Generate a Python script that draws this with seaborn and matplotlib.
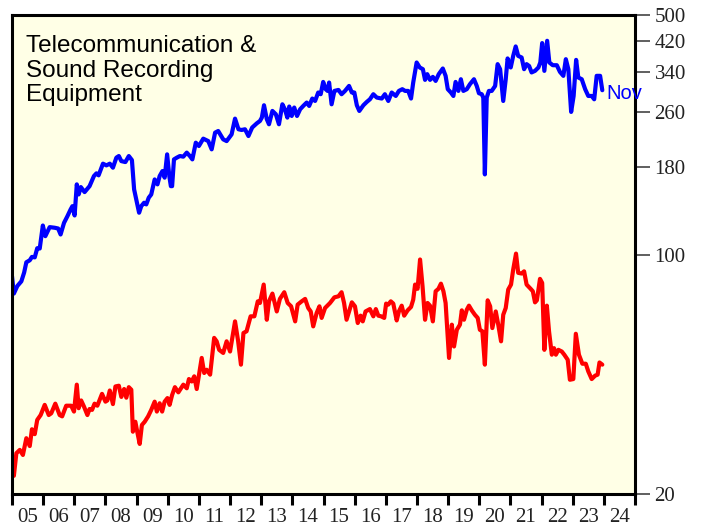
import numpy as np
import pandas as pd
import seaborn as sns
import matplotlib
matplotlib.use("Agg")
import matplotlib.pyplot as plt

# Telecom & sound recording equipment: upper (blue) and lower (red) series, log scale
blue_t = [2005.00, 2005.06, 2005.17, 2005.30, 2005.39, 2005.46, 2005.57, 2005.64, 2005.73, 2005.81,
          2005.89, 2005.99, 2006.07, 2006.21, 2006.37, 2006.48, 2006.56, 2006.67, 2006.78, 2006.88,
          2006.94, 2007.01, 2007.08, 2007.14, 2007.21, 2007.33, 2007.49, 2007.63, 2007.71, 2007.78,
          2007.92, 2008.03, 2008.14, 2008.24, 2008.35, 2008.43, 2008.51, 2008.64, 2008.75, 2008.85,
          2008.92, 2008.99, 2009.08, 2009.15, 2009.24, 2009.31, 2009.39, 2009.47, 2009.58, 2009.67,
          2009.74, 2009.83, 2009.90, 2009.98, 2010.05, 2010.10, 2010.14, 2010.20, 2010.29, 2010.39,
          2010.50, 2010.61, 2010.71, 2010.79, 2010.90, 2011.00, 2011.14, 2011.30, 2011.41, 2011.52,
          2011.62, 2011.78, 2011.89, 2012.05, 2012.16, 2012.27, 2012.37, 2012.48, 2012.59, 2012.71,
          2012.86, 2012.96, 2013.02, 2013.09, 2013.18, 2013.25, 2013.36, 2013.47, 2013.57, 2013.68,
          2013.76, 2013.84, 2013.90, 2013.98, 2014.06, 2014.15, 2014.25, 2014.35, 2014.46, 2014.54,
          2014.64, 2014.73, 2014.83, 2014.91, 2014.99, 2015.07, 2015.13, 2015.18, 2015.26, 2015.35,
          2015.48, 2015.58, 2015.69, 2015.82, 2015.91, 2015.99, 2016.07, 2016.15, 2016.28, 2016.39,
          2016.49, 2016.60, 2016.71, 2016.87, 2016.97, 2017.08, 2017.19, 2017.32, 2017.42, 2017.53,
          2017.62, 2017.72, 2017.81, 2017.88, 2017.99, 2018.09, 2018.19, 2018.26, 2018.33, 2018.42,
          2018.51, 2018.60, 2018.70, 2018.83, 2018.92, 2018.99, 2019.09, 2019.17, 2019.24, 2019.33,
          2019.41, 2019.49, 2019.60, 2019.70, 2019.83, 2019.92, 2019.99, 2020.08, 2020.13, 2020.18,
          2020.24, 2020.31, 2020.40, 2020.51, 2020.59, 2020.67, 2020.77, 2020.85, 2020.91, 2021.01,
          2021.09, 2021.17, 2021.25, 2021.36, 2021.44, 2021.52, 2021.60, 2021.68, 2021.79, 2021.90,
          2021.96, 2022.02, 2022.09, 2022.18, 2022.25, 2022.36, 2022.49, 2022.59, 2022.70, 2022.78,
          2022.86, 2022.95, 2023.03, 2023.11, 2023.18, 2023.29, 2023.40, 2023.50, 2023.61, 2023.69,
          2023.77, 2023.88, 2023.95]
blue_v = [86.4, 76.9, 80.9, 83.5, 88.6, 94.9, 96.2, 98.4, 98.1, 104.3,
          104.1, 121.5, 113.1, 120.2, 119.7, 119.1, 114.4, 123.7, 129.4, 135.3,
          138.4, 130.0, 160.2, 149.7, 157.3, 152.1, 158.3, 169.4, 172.5, 170.2,
          184.1, 182.0, 184.1, 179.2, 191.7, 193.8, 187.3, 186.1, 193.8, 188.6,
          154.9, 144.8, 132.4, 138.4, 141.6, 140.0, 146.5, 149.7, 165.6, 160.2,
          169.4, 175.2, 167.6, 196.0, 169.4, 158.3, 158.3, 189.5, 191.7, 193.8,
          193.0, 198.3, 193.8, 189.5, 212.0, 207.3, 217.8, 214.3, 202.7, 226.8,
          229.3, 216.8, 214.3, 224.2, 249.2, 232.0, 230.9, 232.0, 221.7, 234.7,
          241.5, 245.3, 250.9, 272.6, 248.2, 239.9, 262.4, 256.6, 239.9, 274.4,
          265.4, 250.9, 270.3, 253.7, 268.5, 253.7, 265.4, 271.4, 277.6, 271.4,
          285.2, 280.6, 297.0, 293.6, 318.9, 303.7, 300.2, 317.6, 274.4, 300.2,
          302.2, 293.6, 300.2, 310.4, 297.0, 297.0, 272.6, 262.4, 272.6, 278.8,
          283.8, 293.6, 287.1, 285.2, 293.6, 280.6, 297.0, 290.2, 300.2, 303.7,
          300.2, 300.2, 285.2, 317.6, 363.4, 351.4, 347.4, 323.3, 336.0, 323.3,
          329.9, 321.1, 336.0, 349.0, 332.2, 303.7, 297.0, 290.2, 318.9, 300.2,
          324.7, 300.2, 303.7, 314.0, 324.7, 310.4, 295.6, 293.6, 287.1, 171.3,
          287.1, 300.2, 300.2, 310.4, 359.4, 347.4, 280.6, 324.7, 373.4, 351.4,
          379.9, 404.8, 379.9, 375.8, 347.4, 359.4, 355.1, 339.9, 343.5, 351.4,
          363.4, 414.0, 343.5, 420.4, 363.4, 356.8, 356.8, 341.2, 332.2, 371.5,
          347.4, 260.7, 290.2, 369.8, 328.6, 324.7, 303.7, 290.2, 290.2, 283.8,
          332.2, 332.2, 301.6]

red_t = [2005.00, 2005.06, 2005.14, 2005.25, 2005.35, 2005.46, 2005.57, 2005.64, 2005.73, 2005.81,
         2005.92, 2006.05, 2006.18, 2006.26, 2006.39, 2006.53, 2006.61, 2006.74, 2006.90, 2006.99,
         2007.08, 2007.14, 2007.22, 2007.31, 2007.42, 2007.49, 2007.57, 2007.65, 2007.74, 2007.89,
         2008.00, 2008.06, 2008.14, 2008.24, 2008.32, 2008.43, 2008.51, 2008.60, 2008.67, 2008.75,
         2008.83, 2008.88, 2008.96, 2009.02, 2009.10, 2009.17, 2009.26, 2009.37, 2009.47, 2009.58,
         2009.65, 2009.74, 2009.82, 2009.90, 2009.99, 2010.06, 2010.14, 2010.23, 2010.34, 2010.50,
         2010.61, 2010.68, 2010.77, 2010.85, 2010.93, 2011.09, 2011.17, 2011.25, 2011.36, 2011.49,
         2011.57, 2011.65, 2011.78, 2011.89, 2012.00, 2012.16, 2012.26, 2012.35, 2012.43, 2012.53,
         2012.66, 2012.78, 2012.89, 2012.96, 2013.08, 2013.18, 2013.25, 2013.36, 2013.50, 2013.60,
         2013.74, 2013.85, 2013.96, 2014.09, 2014.17, 2014.30, 2014.41, 2014.51, 2014.59, 2014.67,
         2014.78, 2014.87, 2014.94, 2015.05, 2015.21, 2015.35, 2015.48, 2015.58, 2015.66, 2015.74,
         2015.91, 2016.01, 2016.10, 2016.19, 2016.26, 2016.35, 2016.49, 2016.60, 2016.68, 2016.76,
         2016.85, 2016.95, 2017.01, 2017.08, 2017.16, 2017.24, 2017.35, 2017.42, 2017.51, 2017.59,
         2017.70, 2017.81, 2017.88, 2017.94, 2018.02, 2018.10, 2018.18, 2018.26, 2018.34, 2018.42,
         2018.51, 2018.60, 2018.69, 2018.77, 2018.85, 2018.92, 2019.03, 2019.12, 2019.19, 2019.28,
         2019.38, 2019.44, 2019.51, 2019.60, 2019.67, 2019.76, 2019.86, 2019.95, 2020.02, 2020.10,
         2020.18, 2020.27, 2020.35, 2020.42, 2020.53, 2020.61, 2020.70, 2020.77, 2020.85, 2020.93,
         2021.02, 2021.09, 2021.18, 2021.25, 2021.36, 2021.44, 2021.52, 2021.65, 2021.72, 2021.79,
         2021.85, 2021.95, 2022.02, 2022.09, 2022.17, 2022.24, 2022.33, 2022.40, 2022.46, 2022.54,
         2022.65, 2022.73, 2022.84, 2022.91, 2023.02, 2023.10, 2023.20, 2023.31, 2023.42, 2023.50,
         2023.61, 2023.72, 2023.80, 2023.86, 2023.95]
red_v = [25.7, 22.6, 26.3, 26.9, 26.0, 29.1, 27.6, 30.9, 29.9, 32.9,
         34.0, 36.4, 34.0, 34.4, 36.7, 34.0, 33.7, 36.2, 36.2, 34.8,
         41.7, 35.6, 37.5, 36.0, 34.0, 35.4, 35.2, 36.7, 36.2, 39.2,
         37.2, 37.5, 40.1, 36.6, 41.2, 41.4, 38.4, 40.5, 38.2, 41.0,
         40.3, 30.4, 32.5, 30.4, 28.0, 31.8, 32.5, 33.7, 35.2, 37.2,
         34.8, 36.8, 34.8, 37.2, 38.1, 36.4, 38.9, 41.0, 39.6, 41.7,
         40.7, 43.3, 42.6, 44.1, 40.5, 49.9, 45.1, 46.1, 44.6, 57.1,
         55.8, 52.7, 51.6, 55.8, 52.1, 63.8, 55.8, 47.7, 59.0, 59.7,
         66.0, 66.0, 73.0, 72.2, 81.7, 64.5, 73.0, 76.9, 68.2, 74.2,
         77.6, 72.2, 70.6, 63.8, 71.4, 73.0, 74.2, 69.8, 68.2, 61.7,
         67.5, 70.6, 65.3, 69.8, 72.2, 75.0, 75.5, 77.6, 72.2, 64.5,
         72.5, 70.6, 63.1, 66.3, 63.8, 68.2, 69.3, 66.0, 69.3, 66.3,
         66.0, 65.3, 71.9, 71.4, 73.0, 71.9, 64.2, 68.2, 70.9, 66.3,
         68.7, 70.3, 73.8, 81.7, 79.4, 96.7, 80.7, 64.5, 72.2, 70.9,
         63.8, 78.1, 79.4, 82.2, 78.1, 72.2, 49.9, 62.4, 53.9, 60.3,
         62.4, 68.7, 64.5, 69.0, 70.9, 68.7, 66.7, 65.3, 60.3, 59.7,
         47.7, 73.5, 70.6, 61.0, 68.2, 62.4, 55.8, 66.7, 69.8, 79.0,
         81.7, 90.4, 100.6, 88.4, 88.0, 89.3, 81.7, 79.4, 78.1, 72.5,
         73.5, 84.9, 82.6, 52.7, 70.9, 59.7, 51.0, 53.3, 51.0, 52.7,
         52.1, 51.0, 49.3, 43.1, 43.3, 58.7, 51.0, 48.0, 48.0, 45.6,
         43.3, 44.3, 44.6, 48.4, 47.7]

ytick_vals = [20, 100, 180, 260, 340, 420, 500]
year_labels = [f"{y % 100:02d}" for y in range(2005, 2025)]
title = "Telecommunication &\nSound Recording\nEquipment"

sns.set_theme(style="ticks")
serif = ["Liberation Serif", "DejaVu Serif"]
sans = ["Liberation Sans", "DejaVu Sans"]

fig = plt.figure(figsize=(7.06, 5.29), dpi=100)
ax = fig.add_axes([12 / 706, 35 / 529, 623 / 706, 479 / 529])
ax.set_facecolor("#FFFFE6")

blue = pd.DataFrame({"t": blue_t, "v": blue_v})
red = pd.DataFrame({"t": red_t, "v": red_v})
sns.lineplot(data=blue, x="t", y="v", ax=ax, color="#0000FF", lw=3, sort=False, estimator=None)
sns.lineplot(data=red, x="t", y="v", ax=ax, color="#FF0000", lw=3, sort=False, estimator=None)

ax.set_yscale("log")
ax.set_ylim(20, 500)
ax.set_xlim(2005, 2025)
ax.set_xlabel("")
ax.set_ylabel("")

# right-hand value axis
ax.yaxis.tick_right()
ax.set_yticks(ytick_vals)
ax.set_yticklabels([str(v) for v in ytick_vals], fontfamily=serif, fontsize=15)
ax.yaxis.set_minor_locator(matplotlib.ticker.NullLocator())
ax.tick_params(axis="y", which="major", direction="out", length=11, width=1.2,
               color="#444444", pad=3, labelcolor="#222222")

# years: tick at each boundary, label in the middle
ax.set_xticks(np.arange(2005, 2026))
ax.set_xticklabels([])
ax.set_xticks(np.arange(2005, 2025) + 0.5, minor=True)
ax.set_xticklabels(year_labels, minor=True, fontfamily=serif, fontsize=15)
ax.tick_params(axis="x", which="major", direction="out", length=8, width=2.2, color="black")
ax.tick_params(axis="x", which="minor", length=0, pad=10, labelcolor="#222222")

for sp in ax.spines.values():
    sp.set_linewidth(2.2)
    sp.set_color("black")

ax.text(0.023, 0.958, title, transform=ax.transAxes, ha="left", va="top",
        fontsize=17.5, family=sans, color="black", linespacing=1.15)
ax.annotate("Nov", xy=(blue_t[-1], blue_v[-1]), xytext=(3, -2), textcoords="offset points",
            ha="left", va="center", fontsize=14.5, family=sans, color="#0000FF")

fig.savefig("out.png", dpi=100, facecolor="white")
